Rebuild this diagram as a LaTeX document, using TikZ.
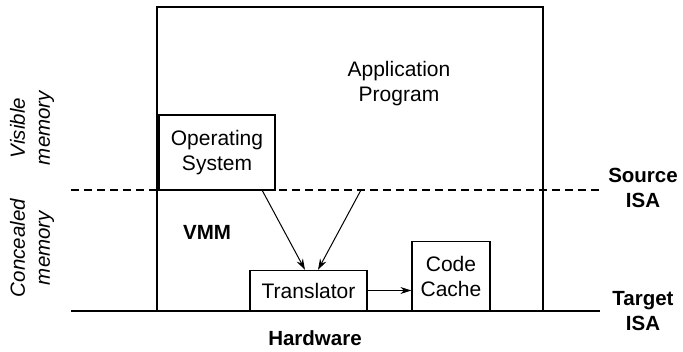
\documentclass[tikz,border=0pt]{standalone}
\usepackage{fontspec}
\setmainfont{Liberation Sans}
\usetikzlibrary{arrows.meta}
\begin{document}
\begin{tikzpicture}[x=1pt,y=-1pt,
  box/.style={draw,line width=1.3pt,inner sep=0pt},
  lbl/.style={font=\fontsize{21}{25}\selectfont,align=center},
  blbl/.style={font=\fontsize{20.5}{25}\selectfont\bfseries,align=center},
  ilbl/.style={font=\fontsize{20.5}{25}\selectfont\itshape,align=center,rotate=90},
  arr/.style={-{Stealth[length=11pt,width=7pt]},line width=1pt}]
\useasboundingbox (0,0) rectangle (683,352);
% outer application box
\draw[line width=1.3pt] (157,311) -- (157,7) -- (543,7) -- (543,311);
% hardware line
\draw[line width=1.8pt] (71,311) -- (600,311);
% dashed line
\draw[line width=1.2pt,dash pattern=on 8pt off 5pt] (71,190) -- (600,190);
% boxes
\node[box,minimum width=116pt,minimum height=75pt,lbl] (os) at (217,152.5) {Operating\\System};
\node[box,minimum width=117pt,minimum height=40pt,lbl] (tr) at (308.5,290.5) {Translator};
\node[box,minimum width=78pt,minimum height=69pt,lbl] (cc) at (451,276) {Code\\Cache};
\coordinate (a1) at (262,190);
\coordinate (a2) at (361,190);
\draw[arr] (a1) -- (tr.north -| 305,0);
\draw[arr] (a2) -- (tr.north -| 318,0);
\draw[arr] (tr.east) -- (cc.west |- tr.east);
% labels
\node[lbl] (app) at (399,84) {Application\\Program};
\node[blbl] (vmm) at (207,232) {VMM};
\node[blbl] (hw) at (315,338) {Hardware};
\node[blbl] (src) at (643,188) {Source\\ISA};
\node[blbl] (tgt) at (643,311) {Target\\ISA};
\node[ilbl] (vis) at (32,128) {Visible\\memory};
\node[ilbl] (con) at (32,248) {Concealed\\memory};
\end{tikzpicture}
\end{document}
